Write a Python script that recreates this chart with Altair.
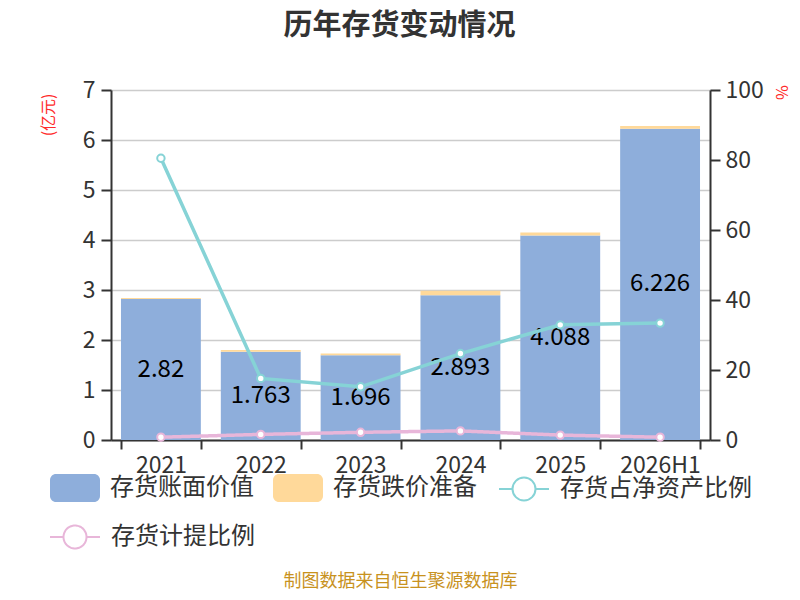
import altair as alt
import pandas as pd

years = ["2021", "2022", "2023", "2024", "2025", "2026H1"]
book_value = [2.82, 1.763, 1.696, 2.893, 4.088, 6.226]
reserve = [0.02, 0.035, 0.035, 0.09, 0.06, 0.055]
ratio_net = [80.5, 17.6, 15.2, 24.7, 32.9, 33.4]
ratio_prov = [0.8, 1.6, 2.2, 2.6, 1.4, 0.8]

names = ["存货账面价值", "存货跌价准备", "存货占净资产比例", "存货计提比例"]
colors = ["#8eaedb", "#ffd99a", "#86d3d6", "#e8b6d9"]
left_ticks = [0, 1, 2, 3, 4, 5, 6, 7]
right_ticks = [0, 20, 40, 60, 80, 100]

FONT = "Noto Sans CJK SC"

bar_df = pd.DataFrame(
    [{"year": y, "series": names[0], "value": v, "ord": 0} for y, v in zip(years, book_value)]
    + [{"year": y, "series": names[1], "value": v, "ord": 1} for y, v in zip(years, reserve)]
)
net_df = pd.DataFrame({"year": years, "series": names[2], "value": ratio_net})
prov_df = pd.DataFrame({"year": years, "series": names[3], "value": ratio_prov})

rect_path = ("M-0.95,-0.7 H0.95 A0.3,0.3 0 0 1 1.25,-0.4 V0.4 A0.3,0.3 0 0 1 0.95,0.7 "
             "H-0.95 A0.3,0.3 0 0 1 -1.25,0.4 V-0.4 A0.3,0.3 0 0 1 -0.95,-0.7 Z")
line_path = ("M-1.25,0 H-0.575 M0.575,0 H1.25 M-0.575,0 A0.575,0.575 0 1 0 0.575,0 "
             "A0.575,0.575 0 1 0 -0.575,0 Z")

leg_common = dict(
    title=None, orient="none", direction="horizontal", symbolSize=1600,
    labelFontSize=24, labelFont=FONT, labelColor="#333333", labelOffset=15,
    columnPadding=19, labelLimit=400,
)

bar_legend = alt.Legend(legendX=-56, legendY=378, symbolType=rect_path,
                        symbolStrokeWidth=0, symbolOpacity=1, **leg_common)
net_legend = alt.Legend(legendX=392, legendY=378, symbolType=line_path,
                        symbolFillColor="#ffffff", symbolStrokeColor=colors[2],
                        symbolStrokeWidth=2, symbolOpacity=1, **leg_common)
prov_legend = alt.Legend(legendX=-57, legendY=426, symbolType=line_path,
                         symbolFillColor="#ffffff", symbolStrokeColor=colors[3],
                         symbolStrokeWidth=2, symbolOpacity=1, **leg_common)

x = alt.X(
    "year:N", sort=years,
    scale=alt.Scale(paddingInner=0.2, paddingOuter=0.1),
    axis=alt.Axis(
        title="制图数据来自恒生聚源数据库", titleColor="#c8921e", titleFontSize=18,
        titleFontWeight="normal", titleFont=FONT, titleX=289, titleY=141,
        titleAlign="center", titleBaseline="middle",
        labelAngle=0, labelFontSize=23, labelFont=FONT, labelColor="#333333",
        labelPadding=5, tickBand="extent", tickSize=9, tickColor="#333333", tickWidth=2,
        domainColor="#333333", domainWidth=2, grid=False,
    ),
)
x_plain = alt.X("year:N", sort=years)

y_left_scale = alt.Scale(domain=[0, 7], nice=False)
y_right_scale = alt.Scale(domain=[0, 100], nice=False)

bars = alt.Chart(bar_df).mark_bar(stroke=None).encode(
    x=x,
    y=alt.Y("value:Q", stack="zero", scale=y_left_scale,
            axis=alt.Axis(values=left_ticks, title="(亿元)", titleColor="#ff2a2a",
                          titleFontSize=16, titleFontWeight="normal", titleFont=FONT,
                          titleAngle=270, titleX=-63, titleY=3, titleAlign="right",
                          titleBaseline="middle",
                          labelFontSize=23, labelFont=FONT, labelColor="#333333",
                          labelPadding=6, tickSize=10, tickColor="#333333", tickWidth=2,
                          domainColor="#333333", domainWidth=2,
                          grid=True, gridColor="#cccccc", gridWidth=1.3)),
    fill=alt.Fill("series:N", scale=alt.Scale(domain=names[:2], range=colors[:2]),
                  legend=bar_legend),
    order=alt.Order("ord:Q"),
)

labels = alt.Chart(bar_df).transform_filter(
    alt.datum.ord == 0
).transform_calculate(mid="datum.value / 2").mark_text(
    fontSize=24, font=FONT, color="#000000", baseline="middle"
).encode(
    x=x_plain,
    y=alt.Y("mid:Q", scale=y_left_scale),
    text=alt.Text("value:Q"),
)

y_right = alt.Y("value:Q", scale=y_right_scale,
                axis=alt.Axis(orient="right", values=right_ticks, title="%", titleColor="#ff2a2a",
                              titleFontSize=16, titleFontWeight="normal", titleFont=FONT,
                              titleAngle=90, titleX=70, titleY=2, titleAlign="center",
                              titleBaseline="middle",
                              labelFontSize=23, labelFont=FONT, labelColor="#333333",
                              labelPadding=5, tickSize=10, tickColor="#333333", tickWidth=2,
                              domainColor="#333333", domainWidth=2, grid=False))
y_right_plain = alt.Y("value:Q", scale=y_right_scale)

net_line = alt.Chart(net_df).mark_line(strokeWidth=3.5).encode(
    x=x_plain, y=y_right,
    stroke=alt.Stroke("series:N", scale=alt.Scale(domain=[names[2]], range=[colors[2]]),
                      legend=net_legend),
)
prov_line = alt.Chart(prov_df).mark_line(strokeWidth=3.5, stroke=colors[3]).encode(
    x=x_plain, y=y_right_plain,
    strokeDash=alt.StrokeDash("series:N", scale=alt.Scale(domain=[names[3]], range=[[1, 0]]),
                              legend=prov_legend),
)
pt_kw = dict(shape="circle", filled=False, fill="#ffffff", fillOpacity=1, size=55,
             strokeWidth=2, opacity=1)
net_pts = alt.Chart(net_df).mark_point(stroke=colors[2], **pt_kw).encode(
    x=x_plain, y=y_right_plain)
prov_pts = alt.Chart(prov_df).mark_point(stroke=colors[3], **pt_kw).encode(
    x=x_plain, y=y_right_plain)

left = alt.layer(bars, labels)
right = alt.layer(net_line, prov_line, net_pts, prov_pts)

chart = alt.layer(left, right).resolve_scale(y="independent").properties(
    width=599, height=350,
    autosize=alt.AutoSizeParams(type="none"),
    padding={"left": 103, "top": 82, "right": 82, "bottom": 152},
    title=alt.TitleParams(
        "历年存货变动情况", fontSize=29, fontWeight="bold", color="#333333", font=FONT,
        anchor="middle", frame="group", dx=-11, offset=38,
    ),
).configure_view(stroke=None).configure(font=FONT)

chart.save("out.html", embed_options={"renderer": "svg", "actions": False})
